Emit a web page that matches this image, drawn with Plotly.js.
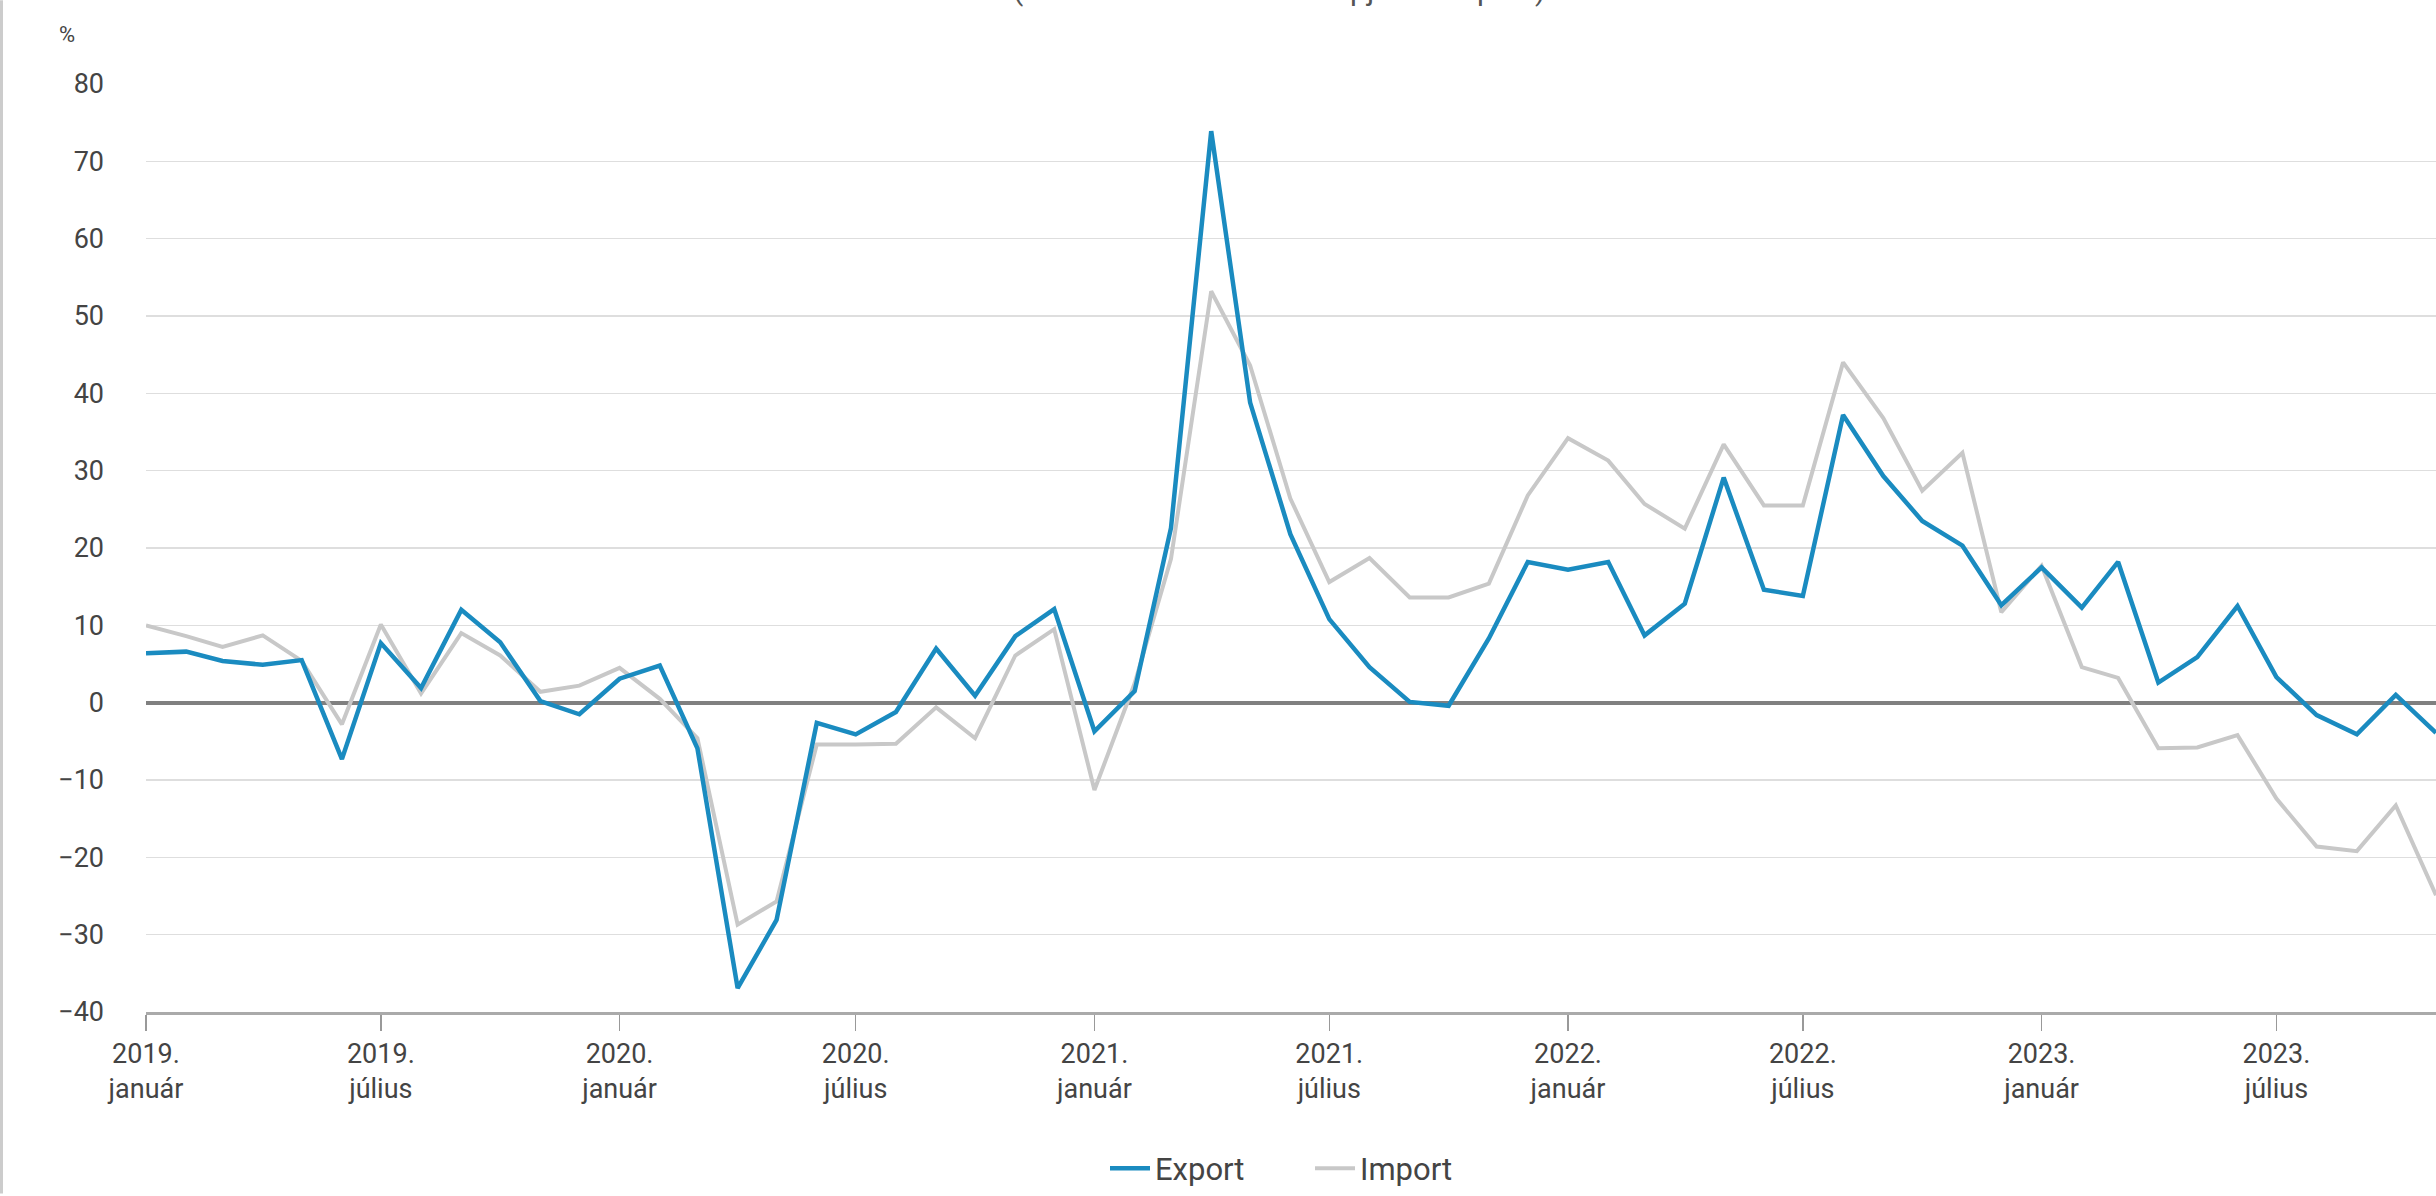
<!DOCTYPE html>
<html>
<head>
<meta charset="utf-8">
<script src="https://cdn.plot.ly/plotly-3.0.1.min.js"></script>
<style>
  html, body { margin: 0; padding: 0; background: #fff; }
  #chart { width: 2436px; height: 1196px; }
</style>
</head>
<body>
<div id="chart"></div>
<script>
// Months: January 2019 .. November 2023
const months = [
  "2019-01-01","2019-02-01","2019-03-01","2019-04-01","2019-05-01","2019-06-01",
  "2019-07-01","2019-08-01","2019-09-01","2019-10-01","2019-11-01","2019-12-01",
  "2020-01-01","2020-02-01","2020-03-01","2020-04-01","2020-05-01","2020-06-01",
  "2020-07-01","2020-08-01","2020-09-01","2020-10-01","2020-11-01","2020-12-01",
  "2021-01-01","2021-02-01","2021-03-01","2021-04-01","2021-05-01","2021-06-01",
  "2021-07-01","2021-08-01","2021-09-01","2021-10-01","2021-11-01","2021-12-01",
  "2022-01-01","2022-02-01","2022-03-01","2022-04-01","2022-05-01","2022-06-01",
  "2022-07-01","2022-08-01","2022-09-01","2022-10-01","2022-11-01","2022-12-01",
  "2023-01-01","2023-02-01","2023-03-01","2023-04-01","2023-05-01","2023-06-01",
  "2023-07-01","2023-08-01","2023-09-01","2023-10-01","2023-11-01"
];

const exportValues = [
  6.4, 6.6, 5.4, 4.9, 5.5, -7.3,
  7.7, 1.9, 12.0, 7.8, 0.2, -1.5,
  3.1, 4.8, -5.9, -36.9, -28.1, -2.6,
  -4.1, -1.2, 7.0, 0.9, 8.6, 12.1,
  -3.7, 1.5, 22.6, 73.9, 38.8, 21.8,
  10.8, 4.6, 0.1, -0.4, 8.3, 18.2,
  17.2, 18.2, 8.7, 12.8, 29.1, 14.6,
  13.8, 37.2, 29.3, 23.5, 20.3, 12.6,
  17.5, 12.3, 18.2, 2.6, 5.9, 12.5,
  3.3, -1.6, -4.1, 1.0, -3.9
];

const importValues = [
  10.0, 8.6, 7.2, 8.7, 5.4, -2.8,
  10.1, 1.2, 9.0, 6.1, 1.4, 2.2,
  4.5, 0.5, -4.6, -28.7, -25.7, -5.4,
  -5.4, -5.3, -0.6, -4.6, 6.1, 9.5,
  -11.3, 2.5, 18.6, 53.2, 43.6, 26.4,
  15.6, 18.7, 13.6, 13.6, 15.4, 26.8,
  34.2, 31.3, 25.7, 22.5, 33.4, 25.5,
  25.5, 44.0, 36.8, 27.4, 32.3, 11.7,
  17.7, 4.6, 3.2, -5.9, -5.8, -4.2,
  -12.4, -18.6, -19.2, -13.3, -24.9
];

const tickDates = [
  "2019-01-01","2019-07-01","2020-01-01","2020-07-01","2021-01-01",
  "2021-07-01","2022-01-01","2022-07-01","2023-01-01","2023-07-01"
];
const tickLabels = [
  "2019.<br>január","2019.<br>július","2020.<br>január","2020.<br>július","2021.<br>január",
  "2021.<br>július","2022.<br>január","2022.<br>július","2023.<br>január","2023.<br>július"
];
const yTicks = [-40, -30, -20, -10, 0, 10, 20, 30, 40, 50, 60, 70, 80];
const yTickLabels = ["−40","−30","−20","−10","0","10","20","30","40","50","60","70","80"];

const seriesNames = ["Export", "Import"];
const subtitleText = "(az előző év azonos hónapjához képest)";

const FONT = "Roboto, 'Noto Sans', sans-serif";
const TXT = "#444444";

const W = 2436, H = 1196;
const margin = {l: 146, r: 0, t: 84, b: 182};
const plotW = W - margin.l - margin.r;
const plotH = H - margin.t - margin.b;

const traces = [
  {
    x: months, y: importValues, name: seriesNames[1], type: "scatter", mode: "lines",
    line: {color: "#c8c8c8", width: 4}, legendrank: 2
  },
  {
    x: months, y: exportValues, name: seriesNames[0], type: "scatter", mode: "lines",
    line: {color: "#1a8bc0", width: 4.5}, legendrank: 1
  }
];

const layout = {
  width: W, height: H,
  margin: margin,
  paper_bgcolor: "#ffffff",
  plot_bgcolor: "#ffffff",
  font: {family: FONT, size: 27, color: TXT},
  showlegend: true,
  legend: {
    orientation: "h", x: (1310 - margin.l) / plotW, xanchor: "center",
    y: -(1171 - (H - margin.b)) / plotH, yanchor: "middle",
    font: {family: FONT, size: 31, color: TXT},
    itemwidth: 40, entrywidth: 150, entrywidthmode: "pixels",
    tracegroupgap: 0, traceorder: "normal"
  },
  xaxis: {
    type: "date",
    range: ["2019-01-01", "2023-11-01"],
    tickmode: "array", tickvals: tickDates, ticktext: tickLabels,
    ticks: "outside", ticklen: 16, tickwidth: 1.5, tickcolor: "#999999",
    tickfont: {family: FONT, size: 27, color: TXT},
    showgrid: false, zeroline: false,
    showline: true, linecolor: "#aaaaaa", linewidth: 2.5,
    fixedrange: true
  },
  yaxis: {
    range: [-40, 80],
    tickmode: "array", tickvals: yTicks, ticktext: yTickLabels,
    tickfont: {family: FONT, size: 27, color: TXT},
    ticks: "", ticklabelstandoff: 41,
    showgrid: true, gridcolor: "#dedede", gridwidth: 1.5,
    zeroline: true, zerolinecolor: "#808080", zerolinewidth: 4,
    showline: false, fixedrange: true
  },
  shapes: [
    {
      type: "line", xref: "paper", yref: "paper",
      x0: -(margin.l - 1.5) / plotW, x1: -(margin.l - 1.5) / plotW,
      y0: -margin.b / plotH, y1: 1 + margin.t / plotH,
      line: {color: "#cccccc", width: 3}
    }
  ],
  annotations: [
    {
      text: "%", xref: "paper", yref: "paper",
      x: -(margin.l - 67) / plotW, xanchor: "center",
      y: 1 + (margin.t - 34) / plotH, yanchor: "middle",
      showarrow: false, font: {family: FONT, size: 22, color: TXT}
    },
    {
      text: subtitleText, xref: "paper", yref: "paper",
      x: (1279 - margin.l) / plotW, xanchor: "center",
      y: 1 + (margin.t + 11) / plotH, yanchor: "middle",
      showarrow: false, font: {family: FONT, size: 30, color: "#555555"}
    }
  ]
};

Plotly.newPlot("chart", traces, layout, {displayModeBar: false, staticPlot: true});
</script>
</body>
</html>
